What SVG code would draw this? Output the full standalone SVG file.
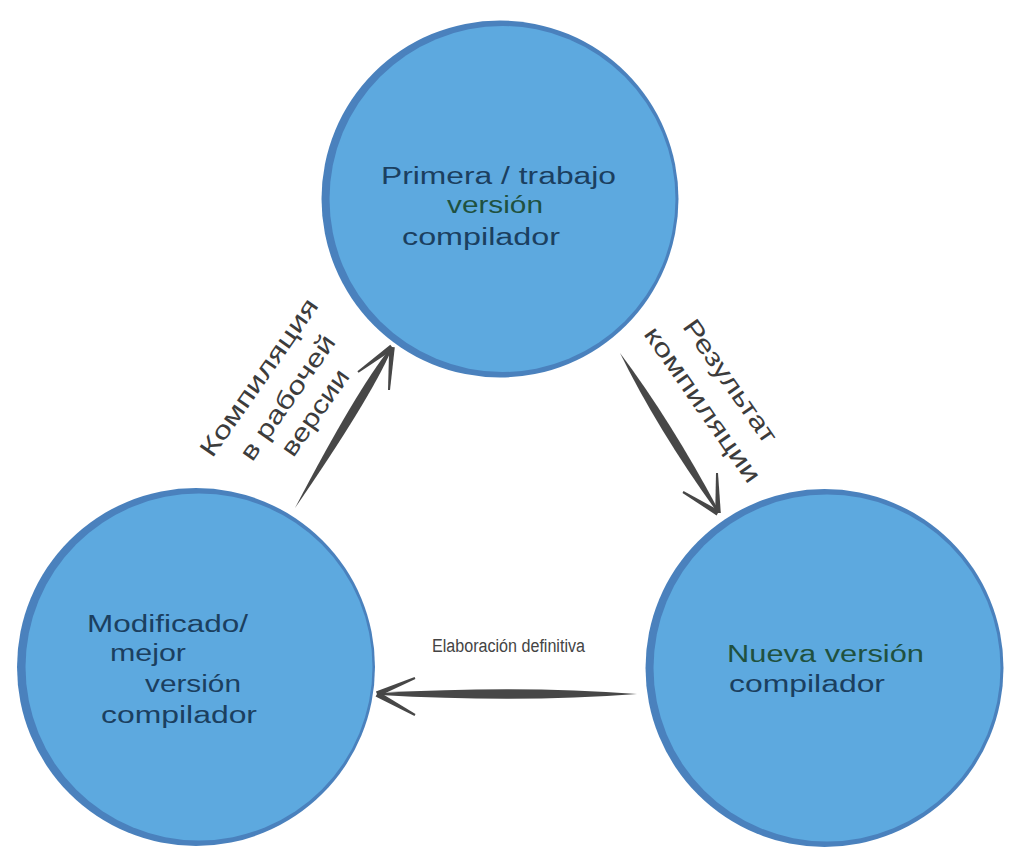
<svg xmlns="http://www.w3.org/2000/svg" width="1024" height="865" viewBox="0 0 1024 865">
<style>
.rim{fill:#4a81bd}
.fill{fill:#5da9df}
.t{font-family:"Liberation Sans",Arial,sans-serif;font-size:23px}
.navy{fill:#1b3f5f}
.green{fill:#1f5140}
.lbl{font-family:"Liberation Sans",Arial,sans-serif;font-size:25px;fill:#3c3c3c;text-anchor:middle}
.small{font-family:"Liberation Sans",Arial,sans-serif;font-size:18px;fill:#444}
.arr{fill:#474747}
</style>
<rect width="1024" height="865" fill="#ffffff"/>
<g id="connectors">
  <g id="arrow-left">
    <path class="arr" d="M295,508 Q369.8,399.4 391.5,350 L389.5,349 Q356,391.2 295,508 Z"/>
    <path class="arr" d="M393.7,349.3 L358.6,372.8 L357.4,371.2 L390.3,344.7 Z"/>
    <path class="arr" d="M394.8,347.2 L390,390.1 L388,389.9 L389.2,346.8 Z"/>
  </g>
  <g id="arrow-right">
    <path class="arr" d="M620,353 Q670.9,420.8 719,511 L717,512 Q657.3,429.2 620,353 Z"/>
    <path class="arr" d="M719.4,510.6 L683.5,491.1 L682.5,492.9 L716.6,515.4 Z"/>
    <path class="arr" d="M720.8,513 L718,473 L716,473 L715.2,513 Z"/>
  </g>
  <g id="arrow-bottom">
    <path class="arr" d="M637,694 Q520,685 380,693 L380,695 Q520,703 637,694 Z"/>
    <path class="arr" d="M378.1,696.6 L415.4,678.9 L414.6,677.1 L375.9,691.4 Z"/>
    <path class="arr" d="M375.6,696.5 L414.5,715.9 L415.5,714.1 L378.4,691.6 Z"/>
  </g>
  <text class="lbl" transform="translate(296.5,399.5) rotate(-55)">
    <tspan x="0" y="-35" textLength="187" lengthAdjust="spacingAndGlyphs">Компиляция</tspan>
    <tspan x="0" y="0" textLength="147" lengthAdjust="spacingAndGlyphs">в рабочей</tspan>
    <tspan x="0" y="31" textLength="100" lengthAdjust="spacingAndGlyphs">версии</tspan>
  </text>
  <text class="lbl" transform="translate(725.3,388.8) rotate(55)">
    <tspan x="0" y="0" textLength="145" lengthAdjust="spacingAndGlyphs">Результат</tspan>
    <tspan x="0" y="36" textLength="184" lengthAdjust="spacingAndGlyphs">компиляции</tspan>
  </text>
  <text class="small" x="432" y="652" textLength="153" lengthAdjust="spacingAndGlyphs">Elaboración definitiva</text>
</g>
<g id="node-top">
  <circle class="rim" cx="500" cy="199" r="178.5"/>
  <circle class="fill" cx="502.5" cy="199" r="173"/>
  <text class="t navy" x="381" y="184" textLength="235" lengthAdjust="spacingAndGlyphs">Primera / trabajo</text>
  <text class="t green" x="447" y="213" textLength="96" lengthAdjust="spacingAndGlyphs">versión</text>
  <text class="t navy" x="402" y="245" textLength="158" lengthAdjust="spacingAndGlyphs">compilador</text>
</g>
<g id="node-left">
  <circle class="rim" cx="196" cy="667" r="179"/>
  <circle class="fill" cx="199" cy="667" r="173.5"/>
  <text class="t navy" x="87" y="632" textLength="161" lengthAdjust="spacingAndGlyphs">Modificado/</text>
  <text class="t navy" x="110" y="661" textLength="76" lengthAdjust="spacingAndGlyphs">mejor</text>
  <text class="t navy" x="145" y="692" textLength="96" lengthAdjust="spacingAndGlyphs">versión</text>
  <text class="t navy" x="101" y="723" textLength="156" lengthAdjust="spacingAndGlyphs">compilador</text>
</g>
<g id="node-right">
  <circle class="rim" cx="824.5" cy="668" r="179"/>
  <circle class="fill" cx="827" cy="668" r="173.5"/>
  <text class="t green" x="727" y="662" textLength="197" lengthAdjust="spacingAndGlyphs">Nueva versión</text>
  <text class="t navy" x="729" y="692" textLength="156" lengthAdjust="spacingAndGlyphs">compilador</text>
</g>
</svg>
